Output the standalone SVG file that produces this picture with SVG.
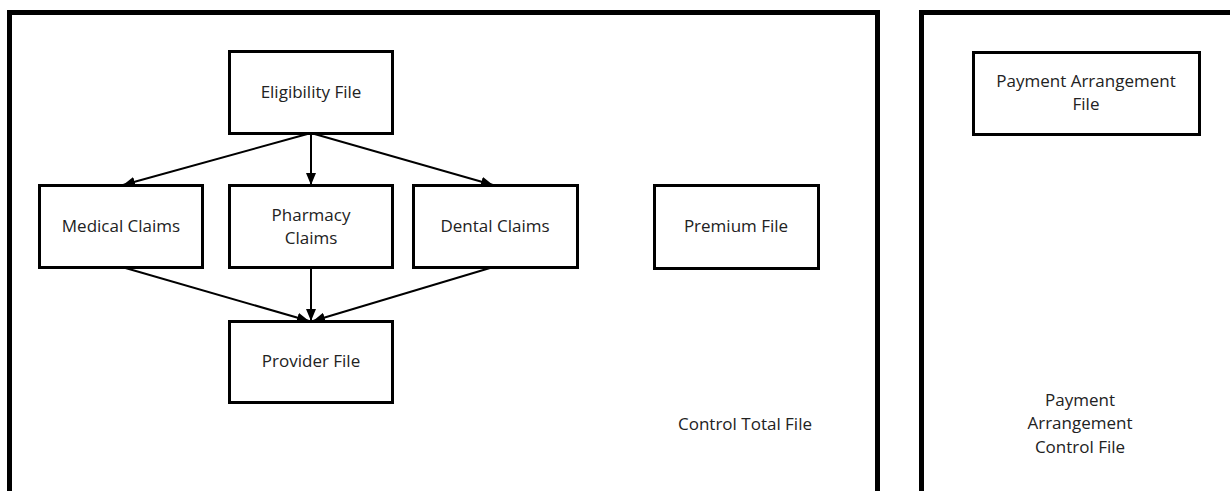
<svg xmlns="http://www.w3.org/2000/svg" width="1230" height="491" viewBox="0 0 1230 491">
<style>
.panel{fill:none;stroke:#000;stroke-width:5}
.box{fill:#fff;stroke:#000;stroke-width:3}
.lbl{font-family:"Open Sans","Liberation Sans",Arial,sans-serif;font-size:17px;fill:#222;text-anchor:middle}
.edge{stroke:#000;stroke-width:2;fill:none;marker-end:url(#ah)}
</style>
<defs>
<marker id="ah" viewBox="0 0 12 10" refX="12" refY="5" markerWidth="12" markerHeight="10" markerUnits="userSpaceOnUse" orient="auto">
<path d="M0,0 L12,5 L0,10 Z" fill="#000"/>
</marker>
</defs>
<rect width="1230" height="491" fill="#fff"/>
<g id="panel-left"><rect class="panel" x="9.5" y="12.5" width="868" height="500"/><text class="lbl" x="745" y="430">Control Total File</text></g>
<g id="panel-right"><rect class="panel" x="921.5" y="12.5" width="330" height="500"/><text class="lbl" x="1080" y="406">Payment</text><text class="lbl" x="1080" y="429">Arrangement</text><text class="lbl" x="1080" y="453">Control File</text></g>
<g id="connectors">
<line class="edge" x1="311" y1="133" x2="123" y2="185"/>
<line class="edge" x1="311" y1="133" x2="311" y2="185"/>
<line class="edge" x1="311" y1="133" x2="493" y2="185"/>
<line class="edge" x1="122" y1="267" x2="309" y2="321"/>
<line class="edge" x1="311" y1="268" x2="311" y2="321"/>
<line class="edge" x1="490" y1="268" x2="313" y2="321"/>
</g>
<g id="eligibility"><rect class="box" x="229.5" y="51.5" width="163" height="82"/><text class="lbl" x="311" y="98">Eligibility File</text></g>
<g id="medical"><rect class="box" x="39.5" y="185.5" width="163" height="82"/><text class="lbl" x="121" y="232">Medical Claims</text></g>
<g id="pharmacy"><rect class="box" x="229.5" y="185.5" width="163" height="82"/><text class="lbl" x="311" y="221">Pharmacy</text><text class="lbl" x="311" y="244">Claims</text></g>
<g id="dental"><rect class="box" x="413.5" y="185.5" width="164" height="82"/><text class="lbl" x="495" y="232">Dental Claims</text></g>
<g id="premium"><rect class="box" x="654.5" y="185.5" width="164" height="83"/><text class="lbl" x="736" y="232">Premium File</text></g>
<g id="provider"><rect class="box" x="229.5" y="321.5" width="163" height="81"/><text class="lbl" x="311" y="367">Provider File</text></g>
<g id="payment-arrangement"><rect class="box" x="973.5" y="52.5" width="226" height="82"/><text class="lbl" x="1086" y="87">Payment Arrangement</text><text class="lbl" x="1086" y="110">File</text></g>
</svg>
